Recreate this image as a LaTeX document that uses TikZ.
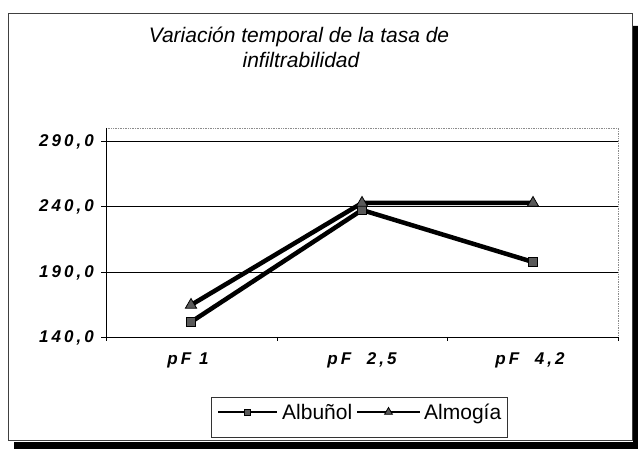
\documentclass[tikz,border=0pt]{standalone}
\usepackage{fontspec}
\setmainfont{Liberation Sans}
\newfontfamily\ejefont[LetterSpace=18]{Liberation Sans}
\usetikzlibrary{shapes.geometric,calc}

\begin{document}
\begin{tikzpicture}[x=1pt,y=-1pt,
    serie/.style={line width=4.5pt,black},
    muestra/.style={line width=2pt,black},
    cuadro/.style={rectangle,draw=black,fill=black!65,minimum size=9pt,inner sep=0pt,line width=0.8pt},
    triang/.style={regular polygon,regular polygon sides=3,draw=black,fill=black!65,minimum size=13pt,inner sep=0pt,line width=0.8pt},
    rejilla/.style={line width=0.9pt,black},
    eje/.style={font=\ejefont\fontsize{17}{17}\selectfont\bfseries\itshape}]
    \useasboundingbox (0,0) rectangle (638,449);

    % marco y sombra
    \fill[black] (633,26) -- (638,26) -- (638,449) -- (14,449) -- (14,442) -- (633,442) -- cycle;
    \draw[black!75,line width=0.8pt] (8,13) rectangle (632,440);

    % titulo
    \node[anchor=base,font=\fontsize{21}{27}\selectfont\itshape] (titulo1) at (299,43) {Variación temporal de la tasa de};
    \node[anchor=base,font=\fontsize{21}{27}\selectfont\itshape] (titulo2) at (301,68) {infiltrabilidad};

    % area del grafico
    \draw[black!45,densely dotted,line width=0.7pt] (106,128) -- (618,128) -- (618,337);
    \draw[rejilla] (101,141) -- (618,141);
    \draw[rejilla] (101,206) -- (618,206);
    \draw[rejilla] (101,272) -- (618,272);
    \draw[rejilla] (101,337) -- (618,337);
    \draw[rejilla] (106,128) -- (106,337);
    \draw[rejilla] (106,337) -- (106,341);
    \draw[rejilla] (277,337) -- (277,341);
    \draw[rejilla] (447,337) -- (447,341);
    \draw[rejilla] (618,337) -- (618,341);

    \node[eje,anchor=east,inner sep=0pt] (y290) at (94,142) {290,0};
    \node[eje,anchor=east,inner sep=0pt] (y240) at (94,207) {240,0};
    \node[eje,anchor=east,inner sep=0pt] (y190) at (94,273) {190,0};
    \node[eje,anchor=east,inner sep=0pt] (y140) at (94,338) {140,0};

    \node[eje,anchor=base] (pf1) at (188,365) {pF 1};
    \node[eje,anchor=base] (pf2) at (362,365) {pF\ \ 2,5};
    \node[eje,anchor=base] (pf3) at (530,365) {pF\ \ 4,2};

    % datos
    \coordinate (alb1) at (191,322);
    \coordinate (alb2) at (362,210);
    \coordinate (alb3) at (533,262);
    \coordinate (alm1) at (191,305);
    \coordinate (alm2) at (362,203);
    \coordinate (alm3) at (533,203);

    \draw[serie] (alb1) -- (alb2) -- (alb3);
    \draw[serie] (alm1) -- (alm2) -- (alm3);
    \node[cuadro] (malb1) at (alb1) {};
    \node[cuadro] (malb2) at (alb2) {};
    \node[cuadro] (malb3) at (alb3) {};
    \node[triang] (malm1) at (alm1) {};
    \node[triang] (malm2) at (alm2) {};
    \node[triang] (malm3) at (alm3) {};

    % leyenda
    \draw[black!80,line width=0.8pt] (211,397) rectangle (507,437);
    \coordinate (l1a) at (218,412);
    \coordinate (l1b) at (277,412);
    \coordinate (l2a) at (357,412);
    \coordinate (l2b) at (420,412);
    \draw[muestra] (l1a) -- (l1b);
    \draw[muestra] (l2a) -- (l2b);
    \node[cuadro,minimum size=6pt] (ley1) at ($(l1a)!0.5!(l1b)$) {};
    \node[triang,minimum size=9pt] (ley2) at ($(l2a)!0.5!(l2b)$) {};
    \node[anchor=base west,inner sep=0pt,font=\fontsize{21}{24}\selectfont] (albtxt) at (282,419) {Albuñol};
    \node[anchor=base west,inner sep=0pt,font=\fontsize{21}{24}\selectfont] (almtxt) at (424,419) {Almogía};
\end{tikzpicture}
\end{document}
